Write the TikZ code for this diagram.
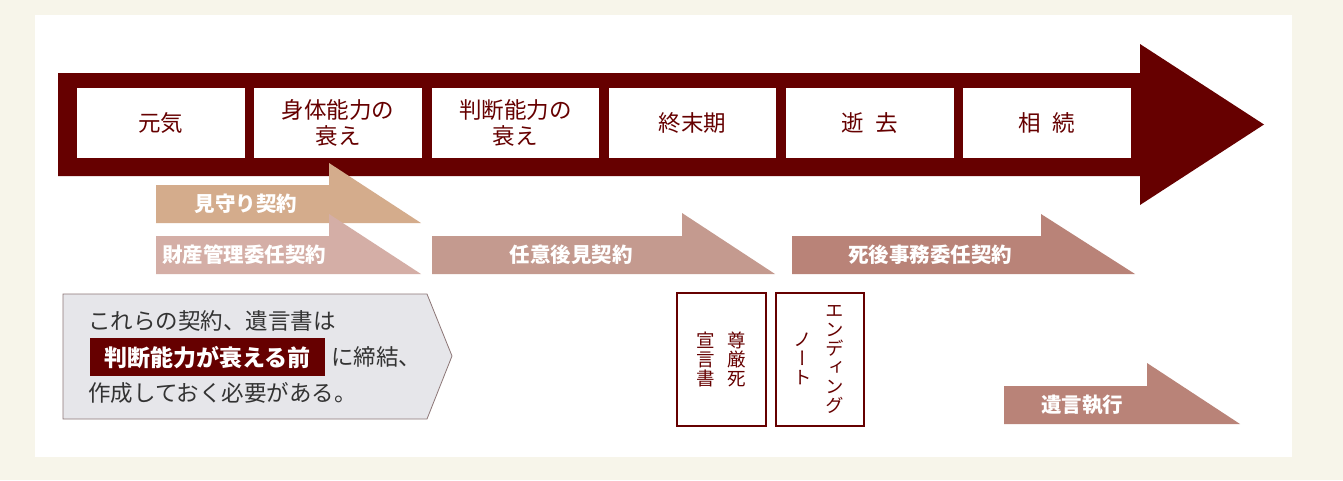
\documentclass[tikz,border=0pt]{standalone}
\usepackage{fontspec}
\newfontfamily\jp{Noto Sans CJK JP}
\newfontfamily\jpv[RawFeature=+vert]{Noto Sans CJK JP}
\definecolor{cream}{HTML}{F7F5EA}
\definecolor{maroon}{HTML}{660000}
\definecolor{tanA}{HTML}{D4AC8C}
\definecolor{pinkA}{HTML}{D4AEA6}
\definecolor{roseA}{HTML}{C49A8F}
\definecolor{roseB}{HTML}{B98378}
\definecolor{calloutfill}{HTML}{E6E6EA}
\definecolor{calloutline}{HTML}{8C7676}
\definecolor{txtgray}{HTML}{333333}
\begin{document}
\begin{tikzpicture}[x=1pt,y=-1pt,
  stagebox/.style={fill=white, draw=none, minimum width=167.5pt, minimum height=70pt, inner sep=0pt, anchor=north west, text=maroon, font=\jp\fontsize{22.5}{26}\selectfont, align=center},
  arrowlabel/.style={text=white, font=\jp\bfseries\fontsize{20.5}{24}\selectfont, inner sep=0pt},
  vbox/.style={draw=maroon, line width=1.6pt, fill=white, inner sep=0pt},
  vtext/.style={text=maroon, font=\jpv\fontsize{18.5}{19}\selectfont, align=center, inner sep=0pt},
  calltext/.style={text=txtgray, font=\jp\fontsize{22.5}{24}\selectfont, inner sep=0pt, anchor=west},
]
\useasboundingbox (0,0) rectangle (1343,480);
\fill[cream] (0,0) rectangle (1343,480);
\fill[white] (35,15) rectangle (1292,457);

% main timeline arrow
\fill[maroon] (58,73) -- (1140,73) -- (1140,44) -- (1264,124.5) -- (1140,205) -- (1140,176) -- (58,176) -- cycle;
\node[stagebox] (s1) at (77,88) {元気};
\node[stagebox] (s2) at (254.2,88) {身体能力の\\衰え};
\node[stagebox] (s3) at (431.4,88) {判断能力の\\衰え};
\node[stagebox] (s4) at (608.6,88) {終末期};
\node[stagebox] (s5) at (785.8,88) {逝\hspace{0.5em}去};
\node[stagebox] (s6) at (963,88) {相\hspace{0.5em}続};

% contract arrows
\fill[tanA] (156,185) -- (329,185) -- (329,163) -- (421,223) -- (156,223) -- cycle;
\node[arrowlabel] (a1) at (246,204) {見守り契約};
\fill[pinkA] (156,236) -- (329,236) -- (329,214) -- (421,274) -- (156,274) -- cycle;
\node[arrowlabel] (a2) at (244,255) {財産管理委任契約};
\fill[roseA] (432,236) -- (682,236) -- (682,213) -- (775,274) -- (432,274) -- cycle;
\node[arrowlabel] (a3) at (571,255) {任意後見契約};
\fill[roseB] (792,236) -- (1041,236) -- (1041,214) -- (1135,274) -- (792,274) -- cycle;
\node[arrowlabel] (a4) at (930,255) {死後事務委任契約};
\fill[roseB] (1004,386) -- (1147,386) -- (1147,363) -- (1240,424) -- (1004,424) -- cycle;
\node[arrowlabel] (a5) at (1082,405) {遺言執行};

% vertical boxes
\draw[vbox] (677,293) rectangle (766,426);
\node[vtext] (v1a) at (737,359) {尊\\厳\\死};
\node[vtext] (v1b) at (706,359) {宣\\言\\書};
\draw[vbox] (776,293) rectangle (864,426);
\node[vtext] (v2a) at (835,359) {エ\\ン\\デ\\ィ\\ン\\グ};
\node[vtext] (v2b) at (803,359) {ノ\\ー\\ト};

% callout
\filldraw[fill=calloutfill, draw=calloutline, line width=0.8pt] (63,294) -- (427,294) -- (452,356) -- (427,419) -- (63,419) -- cycle;
\node[calltext] (c1) at (88,321) {これらの契約、遺言書は};
\node[fill=maroon, minimum width=235pt, minimum height=38pt, inner sep=0pt, anchor=north west] (hl) at (90,338) {};
\node[text=white, font=\jp\bfseries\fontsize{23}{24}\selectfont, inner sep=0pt] (hlt) at (hl.center) {判断能力が衰える前};
\node[calltext] (c2) at (331,357) {に締結、};
\node[calltext] (c3) at (88,393) {作成しておく必要がある。};
\end{tikzpicture}
\end{document}
